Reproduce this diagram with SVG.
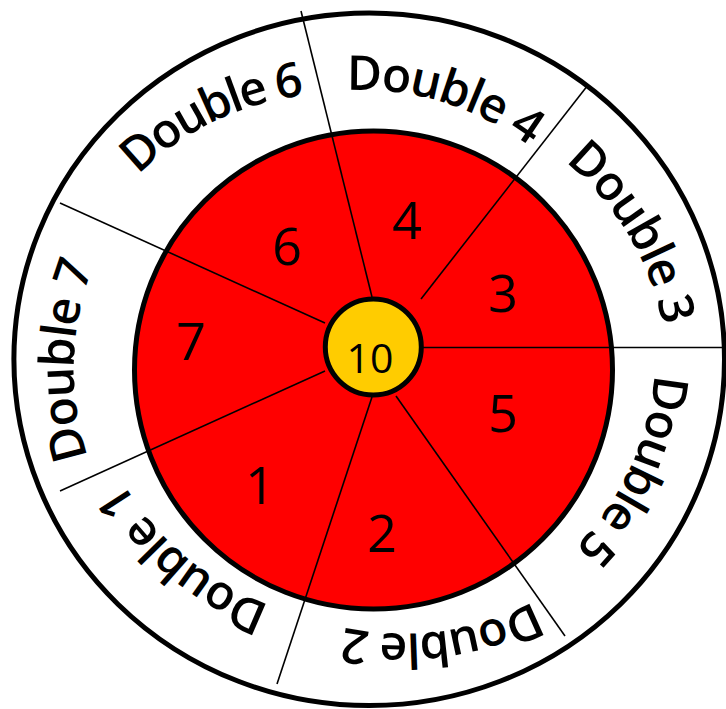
<svg xmlns="http://www.w3.org/2000/svg" xmlns:xlink="http://www.w3.org/1999/xlink" width="726" height="709" viewBox="0 0 726 709">
  <defs>
    <path id="arc7" d="M 274.54 637.01 A 280 280 0 0 1 288.19 96.26"/>
    <path id="arc6" d="M 60.42 426.32 A 280 280 0 0 1 547.32 190.71"/>
    <path id="arc4" d="M 123.26 221.89 A 280 280 0 0 1 640.72 379.42"/>
    <path id="arc3" d="M 311.04 109.22 A 280 280 0 0 1 589.06 573.22"/>
    <path id="arc5" d="M 553.87 135.35 A 280 280 0 0 1 329.03 627.29"/>
    <path id="arc2" d="M 681.0 388.35 A 280 280 0 0 1 145.16 462.44"/>
    <path id="arc1" d="M 527.01 570.63 A 280 280 0 0 1 111.26 224.58"/>
    <style>
      .lbl { font-family: "Open Sans", "Liberation Sans", sans-serif; font-weight: 600; font-size: 48px; letter-spacing: -1.5px; fill: #000; text-anchor: middle; }
      .num { font-family: "Open Sans", "Liberation Sans", sans-serif; font-weight: 400; font-size: 52px; fill: #000; text-anchor: middle; }
      .div { stroke: #000; stroke-width: 1.6; fill: none; }
    </style>
  </defs>
  <rect width="726" height="709" fill="#fff"/>
  <g id="outer-ring">
    <ellipse cx="369.2" cy="359.3" rx="355.3" ry="346.3" fill="#fff" stroke="#000" stroke-width="5"/>
  </g>
  <g id="red-disc">
    <circle cx="373.5" cy="370" r="239" fill="#ff0000"/>
  </g>
  <g id="connectors">
    <line class="div" x1="301" y1="11" x2="372" y2="297"/>
    <line class="div" x1="60" y1="203" x2="325" y2="323"/>
    <line class="div" x1="325" y1="371" x2="60" y2="491"/>
    <line class="div" x1="372" y1="397" x2="277" y2="684"/>
    <line class="div" x1="396" y1="396" x2="565" y2="636"/>
    <line class="div" x1="420" y1="347.5" x2="726" y2="347.5"/>
    <line class="div" x1="421" y1="299" x2="588" y2="85"/>
  </g>
  <g id="red-disc-edge">
    <circle cx="373.5" cy="370" r="239" fill="none" stroke="#000" stroke-width="5"/>
  </g>
  <g id="center">
    <circle cx="373.3" cy="347" r="48" fill="#ffcc00" stroke="#000" stroke-width="5"/>
    <text class="num" x="370" y="373" style="font-size:41px">10</text>
  </g>
  <g id="seg-7"><text class="num" x="191" y="360">7</text></g>
  <g id="seg-6"><text class="num" x="287" y="265">6</text></g>
  <g id="seg-4"><text class="num" x="407" y="239">4</text></g>
  <g id="seg-3"><text class="num" x="503" y="312">3</text></g>
  <g id="seg-5"><text class="num" x="503" y="432">5</text></g>
  <g id="seg-2"><text class="num" x="382" y="552">2</text></g>
  <g id="seg-1"><text class="num" x="260" y="504">1</text></g>
  <g id="label-d7"><text class="lbl"><textPath xlink:href="#arc7" href="#arc7" startOffset="50%">Double 7</textPath></text></g>
  <g id="label-d6"><text class="lbl" style="letter-spacing:-2.5px"><textPath xlink:href="#arc6" href="#arc6" startOffset="50%">Double 6</textPath></text></g>
  <g id="label-d4"><text class="lbl"><textPath xlink:href="#arc4" href="#arc4" startOffset="50%">Double 4</textPath></text></g>
  <g id="label-d3"><text class="lbl"><textPath xlink:href="#arc3" href="#arc3" startOffset="50%">Double 3</textPath></text></g>
  <g id="label-d5"><text class="lbl"><textPath xlink:href="#arc5" href="#arc5" startOffset="50%">Double 5</textPath></text></g>
  <g id="label-d2"><text class="lbl"><textPath xlink:href="#arc2" href="#arc2" startOffset="50%">Double 2</textPath></text></g>
  <g id="label-d1"><text class="lbl"><textPath xlink:href="#arc1" href="#arc1" startOffset="50%">Double 1</textPath></text></g>
</svg>
